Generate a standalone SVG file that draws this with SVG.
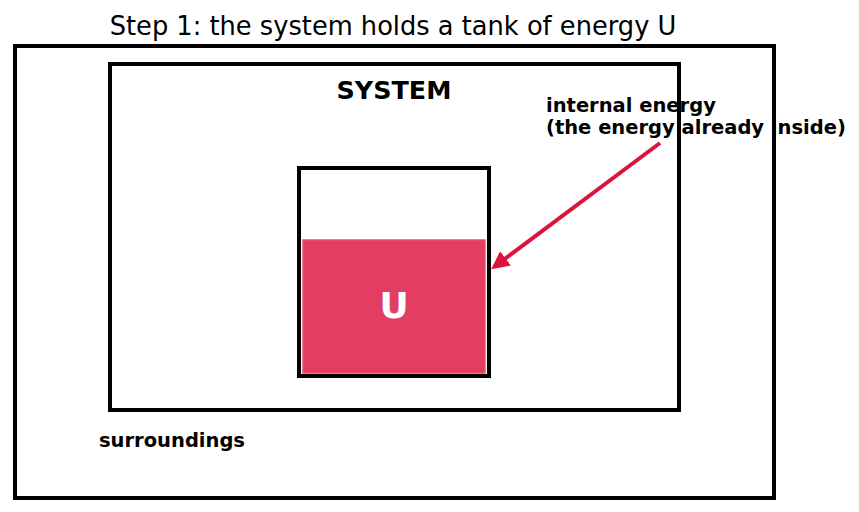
<svg xmlns="http://www.w3.org/2000/svg" width="859" height="512" viewBox="0 0 859 512">
<style>
.box{fill:none;stroke:#000;stroke-width:4}
.lbl{font-family:"DejaVu Sans",sans-serif;font-weight:bold;fill:#000}
</style>
<defs>
<marker id="ah" viewBox="0 0 10 10" refX="8" refY="5" markerWidth="4.5" markerHeight="4.5" orient="auto" markerUnits="strokeWidth">
<path d="M0,0 L10,5 L0,10 z" fill="#dc143c"/>
</marker>
</defs>
<rect width="859" height="512" fill="#fff"/>
<text x="393" y="35" text-anchor="middle" font-family="DejaVu Sans,sans-serif" font-size="25.7" fill="#000">Step 1: the system holds a tank of energy U</text>
<g id="labels">
<text class="lbl" x="546" y="112" font-size="19.5">internal energy</text>
<text class="lbl" x="546" y="134" font-size="19.5">(the energy already inside)</text>
<text class="lbl" x="99" y="447" font-size="19.5">surroundings</text>
</g>
<g id="surroundings"><rect class="box" x="15" y="46" width="759" height="452"/></g>
<g id="system">
<rect class="box" x="110" y="64" width="569" height="346"/>
<text class="lbl" x="394" y="99" font-size="25.4" text-anchor="middle">SYSTEM</text>
</g>
<g id="tank">
<rect x="303" y="240" width="182" height="133" fill="#e33e62" stroke="#e8506f" stroke-width="1.5"/>
<rect class="box" x="299" y="168" width="190" height="208"/>
<text x="394" y="318" text-anchor="middle" font-family="DejaVu Sans,sans-serif" font-weight="bold" font-size="36" fill="#fff">U</text>
</g>
<g id="connectors">
<line x1="660" y1="143" x2="494" y2="267" stroke="#dc143c" stroke-width="4" marker-end="url(#ah)"/>
</g>
</svg>
